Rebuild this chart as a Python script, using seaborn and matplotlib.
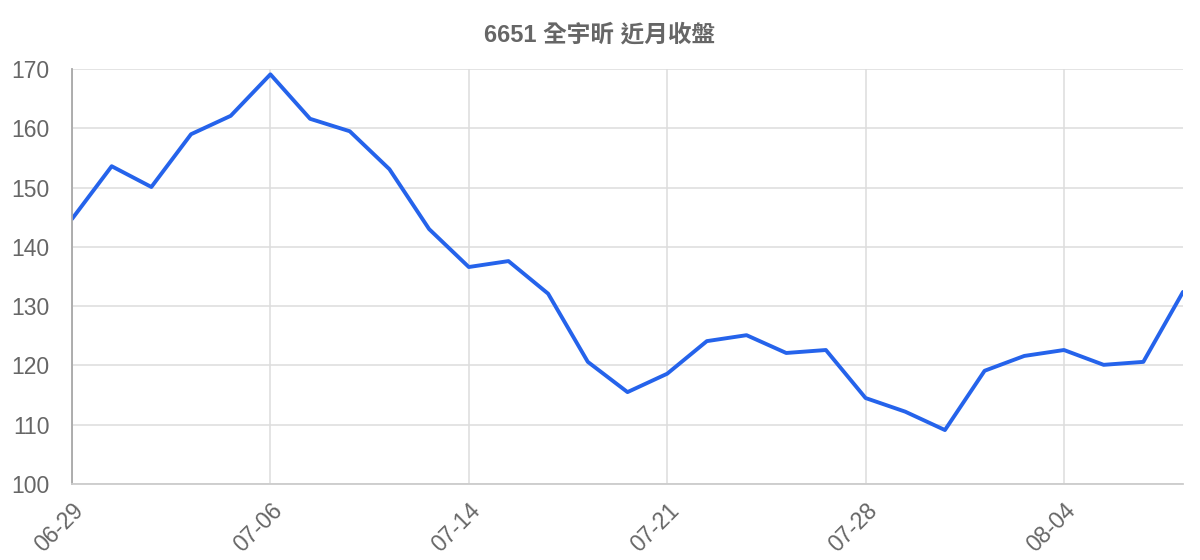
import matplotlib
matplotlib.use("Agg")
import matplotlib.pyplot as plt
import seaborn as sns
import pandas as pd

# Closing prices for the last month
dates = ['06-29', '06-30', '07-01', '07-02', '07-03', '07-06', '07-07', '07-08',
         '07-09', '07-10', '07-14', '07-15', '07-16', '07-17', '07-20', '07-21',
         '07-22', '07-23', '07-24', '07-27', '07-28', '07-29', '07-30', '07-31',
         '08-03', '08-04', '08-05', '08-06', '08-07']
closes = [144.7, 153.6, 150.1, 159.0, 162.1, 169.1, 161.6, 159.5,
          153.1, 143.0, 136.6, 137.6, 132.1, 120.6, 115.5, 118.6,
          124.1, 125.1, 122.1, 122.6, 114.5, 112.2, 109.1, 119.1,
          121.6, 122.6, 120.1, 120.6, 132.4]
y_ticks = [100, 110, 120, 130, 140, 150, 160, 170]
title = '6651 全宇昕 近月收盤'

df = pd.DataFrame({'idx': range(len(dates)), 'date': dates, 'close': closes})

sns.set_style("white")
plt.rcParams['font.family'] = ['Liberation Sans', 'Noto Sans CJK TC', 'DejaVu Sans']

fig = plt.figure(figsize=(12, 5.6), dpi=100)
ax = fig.add_axes([72 / 1200, 1 - 484 / 560, (1183 - 72) / 1200, (484 - 69) / 560])

sns.lineplot(data=df, x='idx', y='close', ax=ax, color='#2563eb', linewidth=2.8)

grid_c = '#dddddd'
ax.set_xlim(0, len(dates) - 1)
ax.set_ylim(100, 170)
ax.set_yticks(y_ticks)
ax.set_yticklabels([str(v) for v in y_ticks])
xt = list(range(0, len(dates), 5))
ax.set_xticks(xt)
ax.set_xticklabels([dates[i] for i in xt], rotation=45, ha='right',
                   rotation_mode='anchor')

ax.grid(True, color=grid_c, linewidth=1.1)
ax.tick_params(axis='y', colors=grid_c, length=14, width=1.1,
               labelcolor='#666666', labelsize=16.5, pad=2)
ax.tick_params(axis='x', colors=grid_c, length=11, width=1.1,
               labelcolor='#666666', labelsize=16.5, pad=0)

for s in ['top', 'right']:
    ax.spines[s].set_visible(False)
ax.spines['left'].set_color('#a8a8a8')
ax.spines['left'].set_linewidth(1.3)
ax.spines['bottom'].set_color('#cccccc')
ax.spines['bottom'].set_linewidth(1.3)

ax.set_xlabel('')
ax.set_ylabel('')
fig.text(0.5, 1 - 35 / 560, title, ha='center', va='center', fontsize=17,
         fontweight='bold', color='#666666',
         family=['Liberation Sans', 'Noto Sans CJK TC'])

fig.savefig('out.png', dpi=100)
